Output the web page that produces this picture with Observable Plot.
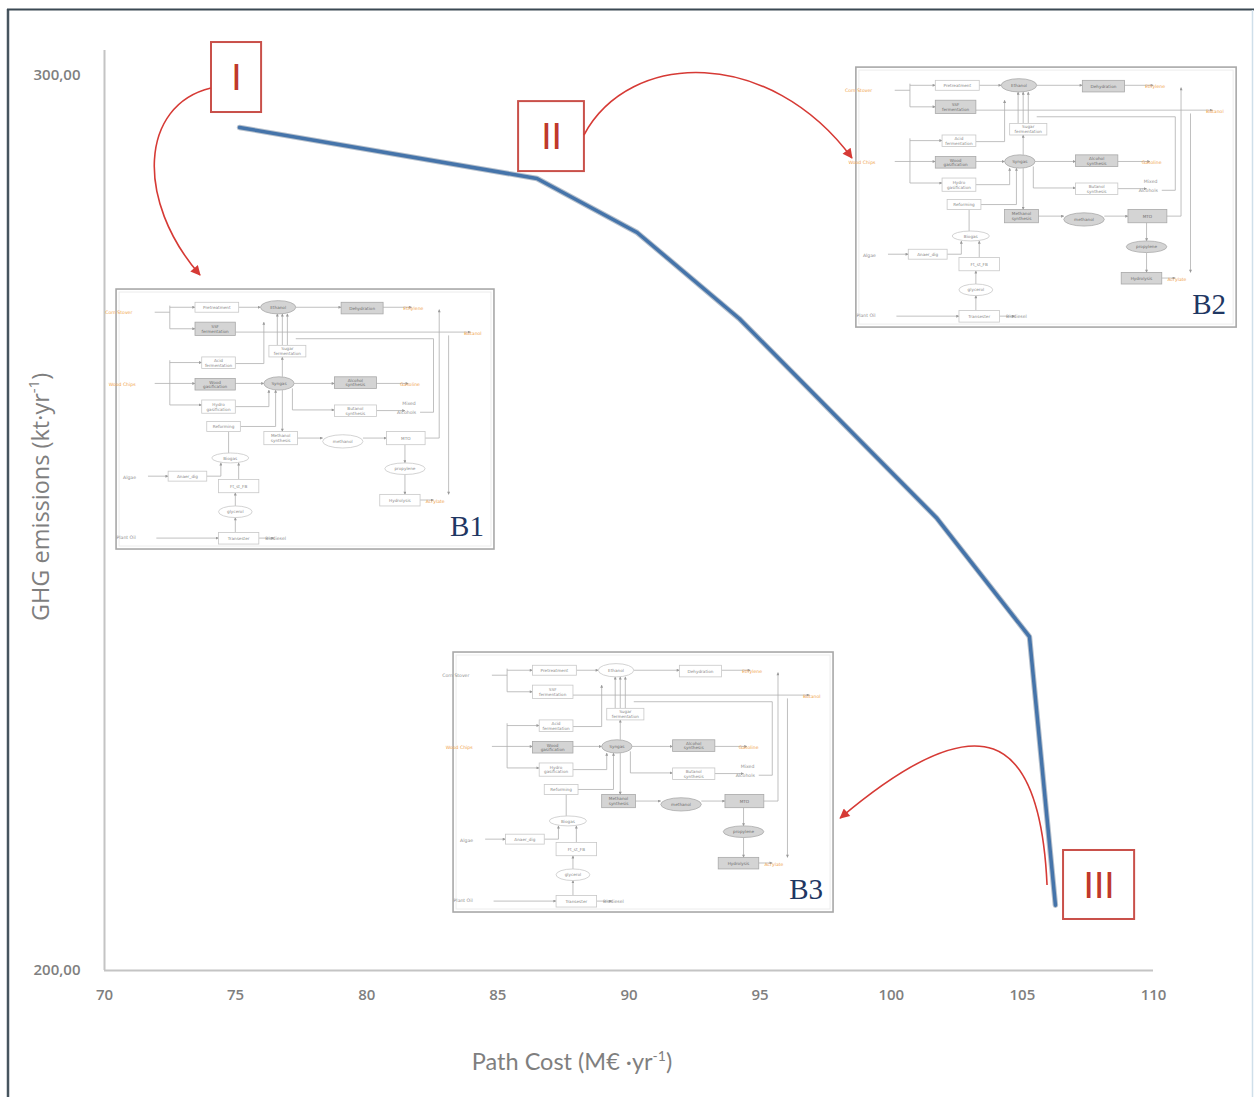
<!DOCTYPE html>
<html><head><meta charset="utf-8">
<script src="https://cdn.jsdelivr.net/npm/d3@7"></script>
<script src="https://cdn.jsdelivr.net/npm/@observablehq/plot@0.6"></script>
<style>
html,body{margin:0;padding:0;background:#fff;}
#wrap{position:relative;width:1254px;height:1097px;overflow:hidden;background:#fff;}
#wrap svg{position:absolute;left:0;top:0;}
</style></head><body><div id="wrap"></div>
<script>
// ---- data ----
const pathCost = [75.15, 86.49, 90.31, 94.2, 101.72, 105.27, 106.26];   // M€·yr-1
const ghgEmissions = [294.2, 288.5, 282.46, 272.85, 250.6, 237.3, 207.3]; // kt·yr-1
const xTicks = [70, 75, 80, 85, 90, 95, 100, 105, 110];
const yTicks = [200, 300];
const pointLabels = ["I", "II", "III"];
const insetLabels = ["B1", "B2", "B3"];

const frontier = pathCost.map((c, i) => ({cost: c, ghg: ghgEmissions[i]}));

// annotation boxes (data units)
const labelBoxes = [
  {label: pointLabels[0], x1: 74.08, x2: 75.99, y1: 303.69, y2: 295.87},
  {label: pointLabels[1], x1: 85.79, x2: 88.30, y1: 297.09, y2: 289.27},
  {label: pointLabels[2], x1: 106.57, x2: 109.28, y1: 213.41, y2: 205.70}
];
const insetBoxes = [
  {label: insetLabels[0], x1: 70.46, x2: 84.87, y1: 276.09, y2: 247.04, variant: 1},
  {label: insetLabels[1], x1: 98.67, x2: 113.17, y1: 300.89, y2: 271.84, variant: 2},
  {label: insetLabels[2], x1: 83.31, x2: 97.80, y1: 235.53, y2: 206.48, variant: 3}
];
// curved pointers (data units, cubic bezier)
const pointers = [
  [[74.08, 298.55], [71.37, 296.65], [71.18, 286.03], [73.66, 277.65]],
  [[88.30, 293.30], [90.06, 302.90], [95.40, 303.10], [98.52, 290.73]],
  [[105.96, 209.50], [105.69, 226.82], [103.40, 230.17], [98.07, 216.98]]
];

const W = 1254, H = 1097;
const plot = Plot.plot({
  width: W, height: H,
  marginLeft: 104, marginRight: 101, marginTop: 50, marginBottom: 127,
  style: {fontFamily: "Open Sans", fontSize: "15px", color: "#7f7f7f", background: "transparent", overflow: "visible"},
  x: {domain: [70, 110], label: null},
  y: {domain: [200, 302.8], label: null},
  marks: [
    Plot.ruleX([70], {y1: 200, y2: 302.8, stroke: "#c4c4c4", strokeWidth: 2}),
    Plot.ruleY([200], {x1: 70, x2: 110, stroke: "#c4c4c4", strokeWidth: 2}),
    Plot.axisX({ticks: xTicks, tickSize: 0, tickPadding: 19, tickFormat: d => String(d), fill: "#7f7f7f", fontWeight: 600, fontSize: 15}),
    Plot.axisY({ticks: yTicks, tickSize: 0, tickPadding: 24, tickFormat: d => d.toFixed(2).replace(".", ","), fill: "#7f7f7f", fontWeight: 600, fontSize: 15}),
    Plot.line(frontier, {x: "cost", y: "ghg", stroke: "#2e4a6e", strokeOpacity: 0.35, strokeWidth: 5.5}),
    Plot.line(frontier, {x: "cost", y: "ghg", stroke: "#4574aa", strokeWidth: 3.5}),
    Plot.rect(labelBoxes, {x1: "x1", x2: "x2", y1: "y1", y2: "y2", fill: "#fff", stroke: "#c9504a", strokeWidth: 2}),
    Plot.text(labelBoxes, {x: d => (d.x1 + d.x2) / 2, y: d => (d.y1 + d.y2) / 2, text: "label", fill: "#c0392b", fontSize: 37, fontWeight: 400, fontFamily: "Lato", dy: 1})
  ]
});
document.getElementById("wrap").appendChild(plot);

const X = plot.scale("x").apply, Y = plot.scale("y").apply;
const svg = d3.select(plot);

// frame of the original figure
svg.append("line").attr("x1", 8).attr("x2", 8).attr("y1", 9).attr("y2", H).attr("stroke", "#47555f").attr("stroke-width", 2.5);
svg.append("line").attr("x1", 7).attr("x2", W).attr("y1", 9.5).attr("y2", 9.5).attr("stroke", "#3b4953").attr("stroke-width", 2);
svg.append("line").attr("x1", 1252.5).attr("x2", 1252.5).attr("y1", 10).attr("y2", H).attr("stroke", "#cfdfea").attr("stroke-width", 1.5);

// axis titles
const yt = svg.append("text").attr("transform", "translate(49,497) rotate(-90)").attr("text-anchor", "middle")
  .attr("font-family", "Open Sans").attr("font-size", 23.5).attr("fill", "#7f7f7f");
yt.append("tspan").text("GHG emissions (kt·yr");
yt.append("tspan").attr("font-size", 15).attr("dy", -10).text("-1");
yt.append("tspan").attr("dy", 10).text(")");
const xt = svg.append("text").attr("x", 572).attr("y", 1070).attr("text-anchor", "middle")
  .attr("font-family", "Lato").attr("font-size", 23.5).attr("fill", "#7f7f7f");
xt.append("tspan").text("Path Cost (M€ ·yr");
xt.append("tspan").attr("font-size", 14).attr("dy", -9).text("-1");
xt.append("tspan").attr("dy", 9).text(")");

// markers
const defs = svg.append("defs");
defs.append("marker").attr("id", "redhead").attr("viewBox", "0 0 10 10").attr("refX", 9).attr("refY", 5)
  .attr("markerWidth", 12).attr("markerHeight", 10).attr("markerUnits", "userSpaceOnUse").attr("orient", "auto")
  .append("path").attr("d", "M0,0 L10,5 L0,10 z").attr("fill", "#d63a35");
defs.append("marker").attr("id", "mini").attr("viewBox", "0 0 10 10").attr("refX", 9).attr("refY", 5)
  .attr("markerWidth", 3.5).attr("markerHeight", 3).attr("markerUnits", "userSpaceOnUse").attr("orient", "auto")
  .append("path").attr("d", "M0,0 L10,5 L0,10 z").attr("fill", "#9a9a9a");

// ---- inset process diagrams (layout in a 1125 x 785 local frame) ----
const nodes = [
  {id: "pre", t: ["Pretreatment"], s: "r", b: [235, 40, 365, 70]},
  {id: "ssf", t: ["SSF", "fermentation"], s: "r", b: [235, 100, 355, 140]},
  {id: "eth", t: ["Ethanol"], s: "e", b: [430, 35, 535, 75]},
  {id: "dist", t: ["Dehydration"], s: "r", b: [670, 40, 795, 75]},
  {id: "sug", t: ["Sugar", "fermentation"], s: "r", b: [455, 170, 565, 205]},
  {id: "acid", t: ["Acid", "fermentation"], s: "r", b: [255, 205, 355, 240]},
  {id: "gas", t: ["Wood", "gasification"], s: "r", b: [235, 270, 355, 305]},
  {id: "syn", t: ["Syngas"], s: "e", b: [440, 265, 530, 305]},
  {id: "alc", t: ["Alcohol", "synthesis"], s: "r", b: [650, 265, 775, 300]},
  {id: "hyd", t: ["Hydro", "gasification"], s: "r", b: [255, 335, 355, 375]},
  {id: "dme", t: ["Butanol", "synthesis"], s: "r", b: [650, 350, 775, 385]},
  {id: "ref", t: ["Reforming"], s: "r", b: [270, 400, 370, 430]},
  {id: "msyn", t: ["Methanol", "synthesis"], s: "r", b: [440, 430, 540, 470]},
  {id: "meoh", t: ["methanol"], s: "e", b: [615, 440, 735, 480]},
  {id: "mto", t: ["MTO"], s: "r", b: [805, 430, 920, 470]},
  {id: "bio", t: ["Biogas"], s: "e", b: [285, 495, 395, 525]},
  {id: "ad", t: ["Anaer_dig"], s: "r", b: [155, 550, 270, 580]},
  {id: "ft", t: ["Ft_st_FB"], s: "r", b: [305, 575, 425, 615]},
  {id: "prop", t: ["propylene"], s: "e", b: [800, 525, 920, 560]},
  {id: "glyc", t: ["glycerol"], s: "e", b: [305, 655, 405, 690]},
  {id: "htr", t: ["Hydrolysis"], s: "r", b: [785, 620, 905, 655]},
  {id: "upg", t: ["Transester"], s: "r", b: [305, 735, 425, 770]}
];
const texts = [
  {t: "Corn Stover", x: 8, y: 72, c: "stover"},
  {t: "Wood Chips", x: 18, y: 288, c: "o"},
  {t: "Ethylene", x: 885, y: 58, c: "o"},
  {t: "Butanol", x: 1062, y: 134, c: "o"},
  {t: "Gasoline", x: 875, y: 289, c: "o"},
  {t: "Mixed", x: 872, y: 345, c: "g"},
  {t: "Alcohols", x: 865, y: 374, c: "g"},
  {t: "Algae", x: 40, y: 569, c: "g"},
  {t: "Acrylate", x: 950, y: 641, c: "o"},
  {t: "Plant Oil", x: 30, y: 749, c: "g"},
  {t: "Biodiesel", x: 475, y: 754, c: "g"}
];
const links = [
  [[115, 70], [160, 70]], [[160, 50], [160, 120]],
  [[160, 55], [235, 55], 1], [[160, 120], [235, 120], 1],
  [[365, 55], [430, 55], 1], [[535, 55], [670, 55], 1], [[795, 55], [880, 55], 1],
  [[355, 130], [1055, 130], 1],
  [[115, 285], [235, 285], 1], [[160, 215], [160, 350]],
  [[160, 222], [255, 222], 1], [[160, 350], [255, 350], 1],
  [[355, 285], [440, 285], 1], [[530, 285], [650, 285], 1], [[775, 285], [870, 285], 1],
  [[495, 265], [495, 205], 1],
  [[480, 170], [480, 75], 1], [[495, 170], [495, 75], 1], [[510, 170], [510, 75], 1],
  [[355, 225], [440, 225], [440, 100], 1],
  [[355, 355], [455, 355], [455, 305], 1],
  [[370, 415], [475, 415], [475, 305], 1],
  [[495, 305], [495, 430], 1],
  [[525, 300], [525, 365], [650, 365], 1], [[775, 367], [860, 367], 1],
  [[540, 450], [615, 450], 1], [[735, 450], [805, 450], 1],
  [[920, 450], [962, 450], [962, 62], 1],
  [[860, 470], [860, 525], 1], [[860, 560], [860, 620], 1], [[905, 637], [945, 637], 1],
  [[990, 140], [990, 620], 1],
  [[535, 150], [945, 150], [945, 372], [905, 372]],
  [[335, 430], [335, 495]],
  [[95, 565], [155, 565], 1],
  [[270, 565], [312, 565], [312, 525], 1], [[365, 575], [365, 525], 1],
  [[355, 655], [355, 615], 1], [[355, 735], [355, 690], 1],
  [[120, 752], [305, 752], 1], [[425, 752], [470, 752], 1]
];
const grayByVariant = {
  1: ["ssf", "eth", "dist", "gas", "syn", "alc"],
  2: ["ssf", "eth", "dist", "gas", "syn", "alc", "msyn", "meoh", "mto", "prop", "htr"],
  3: ["gas", "syn", "alc", "msyn", "meoh", "mto", "prop", "htr"]
};

function drawInset(box) {
  const x0 = X(box.x1), x1 = X(box.x2), y0 = Y(box.y1), y1 = Y(box.y2);
  const w = x1 - x0, h = y1 - y0, sx = w / 1125, sy = h / 785;
  const gray = new Set(grayByVariant[box.variant]);
  const g = svg.append("g").attr("transform", `translate(${x0},${y0})`);
  g.append("rect").attr("width", w).attr("height", h).attr("fill", "#fff").attr("stroke", "#a8a8a8").attr("stroke-width", 1.6);
  g.append("rect").attr("x", 3).attr("y", 3).attr("width", w - 6).attr("height", h - 6).attr("fill", "none").attr("stroke", "#ececec").attr("stroke-width", 1);
  for (const l of links) {
    const arrow = l[l.length - 1] === 1;
    const pts = (arrow ? l.slice(0, -1) : l).map(([a, b]) => [a * sx, b * sy]);
    g.append("path").attr("d", d3.line()(pts)).attr("fill", "none").attr("stroke", "#b0b0b0").attr("stroke-width", 0.8)
      .attr("marker-end", arrow ? "url(#mini)" : null);
  }
  for (const n of nodes) {
    const [a, b, c, d] = n.b;
    const isGray = gray.has(n.id);
    const fill = isGray ? "#d4d4d4" : "#fff", stroke = isGray ? "#a9a9a9" : "#c8c8c8";
    if (n.s === "r") {
      g.append("rect").attr("x", a * sx).attr("y", b * sy).attr("width", (c - a) * sx).attr("height", (d - b) * sy)
        .attr("fill", fill).attr("stroke", stroke).attr("stroke-width", 0.8);
    } else {
      g.append("ellipse").attr("cx", (a + c) / 2 * sx).attr("cy", (b + d) / 2 * sy).attr("rx", (c - a) / 2 * sx).attr("ry", (d - b) / 2 * sy)
        .attr("fill", fill).attr("stroke", stroke).attr("stroke-width", 0.8);
    }
    const cy = (b + d) / 2 * sy, lines = n.t;
    lines.forEach((s, i) => {
      g.append("text").attr("x", (a + c) / 2 * sx).attr("y", cy + (i - (lines.length - 1) / 2) * 4.6 + 1.6)
        .attr("text-anchor", "middle").attr("font-family", "DejaVu Sans").attr("font-size", 4.2)
        .attr("fill", isGray ? "#6f6f6f" : "#8a8a8a").text(s);
    });
  }
  for (const t of texts) {
    const col = t.c === "o" ? "#f0a24a" : t.c === "g" ? "#8f8f8f" : (box.variant === 3 ? "#8f8f8f" : "#f0a24a");
    g.append("text").attr("x", t.x * sx).attr("y", t.y * sy + 1.5).attr("font-family", "DejaVu Sans").attr("font-size", 4.6)
      .attr("fill", col).text(t.t);
  }
  g.append("text").attr("x", w - 10).attr("y", h - 13).attr("text-anchor", "end").attr("font-family", "Liberation Serif")
    .attr("font-size", 29).attr("fill", "#1f3763").text(box.label);
}
insetBoxes.forEach(drawInset);

// red curved pointers
for (const p of pointers) {
  const q = p.map(([a, b]) => [X(a), Y(b)]);
  svg.append("path").attr("d", `M${q[0]}C${q[1]} ${q[2]} ${q[3]}`).attr("fill", "none")
    .attr("stroke", "#d63a35").attr("stroke-width", 1.6).attr("marker-end", "url(#redhead)");
}
</script></body></html>
